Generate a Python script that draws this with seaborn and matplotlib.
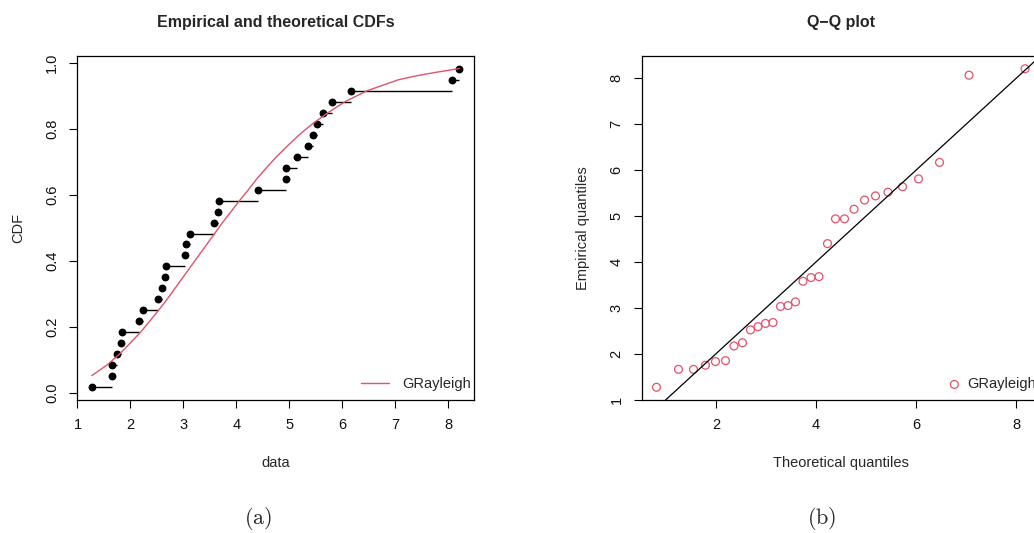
import numpy as np
import matplotlib
matplotlib.use("Agg")
import matplotlib.pyplot as plt
import seaborn as sns

# sorted sample (read from the ECDF / Q-Q empirical quantiles)
data_sorted = [1.27, 1.66, 1.66, 1.75, 1.83, 1.85, 2.17, 2.24, 2.52, 2.59,
               2.66, 2.68, 3.03, 3.05, 3.13, 3.58, 3.66, 3.68, 4.40, 4.94,
               4.94, 5.15, 5.35, 5.44, 5.52, 5.64, 5.81, 6.17, 8.07, 8.21]
# theoretical quantiles of the fitted GRayleigh at the plotting positions
theo_q = [0.81, 1.25, 1.55, 1.79, 1.99, 2.19, 2.36, 2.53, 2.69, 2.84,
          2.99, 3.14, 3.29, 3.44, 3.59, 3.74, 3.90, 4.06, 4.23, 4.39,
          4.57, 4.76, 4.97, 5.19, 5.44, 5.73, 6.05, 6.47, 7.06, 8.18]
n = len(data_sorted)
ppos = [(i + 0.5) / n for i in range(n)]

# fitted CDF curve
curve_x = [1.27] + theo_q[2:29] + [7.40, 7.75, 8.21]
curve_y = [0.052] + ppos[2:29] + [0.962, 0.972, 0.984]

cdf_xticks = [1, 2, 3, 4, 5, 6, 7, 8]
cdf_yticks = [0.0, 0.2, 0.4, 0.6, 0.8, 1.0]
cdf_ylabels = ["0.0", "0.2", "0.4", "0.6", "0.8", "1.0"]
qq_xticks = [2, 4, 6, 8]
qq_yticks = [1, 2, 3, 4, 5, 6, 7, 8]

red = "#DF536B"

sns.set_theme(style="ticks")
plt.rcParams["font.family"] = ["Liberation Sans", "DejaVu Sans"]
plt.rcParams["mathtext.fontset"] = "cm"
plt.rcParams["axes.linewidth"] = 0.9
plt.rcParams["axes.edgecolor"] = "black"

fig = plt.figure(figsize=(10.34, 5.33), dpi=100)
ax1 = fig.add_axes([0.0745, 0.2495, 0.384, 0.6454])
ax2 = fig.add_axes([0.6206, 0.2495, 0.385, 0.6454])

for ax in (ax1, ax2):
    ax.tick_params(direction="out", length=6, width=0.8, color="black",
                   labelsize=10.5, pad=7, labelcolor="#111111")

# ---- (a) empirical and theoretical CDFs
ax1.hlines(ppos[:-1], data_sorted[:-1], data_sorted[1:], color="black", lw=1)
sns.scatterplot(x=data_sorted, y=ppos, color="black", s=32, linewidth=0, ax=ax1)
sns.lineplot(x=curve_x, y=curve_y, sort=False, color=red, lw=1,
             label="GRayleigh", ax=ax1)
ax1.set_xlim(0.992, 8.488)
ax1.set_ylim(-0.022, 1.022)
ax1.set_xticks(cdf_xticks)
ax1.set_yticks(cdf_yticks)
ax1.set_yticklabels(cdf_ylabels, rotation=90, va="center")
ax1.set_title("Empirical and theoretical CDFs", fontsize=11.5,
              fontweight="bold", pad=21)
ax1.set_xlabel("data", fontsize=10.5, labelpad=17)
ax1.set_ylabel("CDF", fontsize=10.5, labelpad=14)
ax1.legend(loc="lower right", bbox_to_anchor=(1.013, 0.0), frameon=False,
           fontsize=10.5, handlelength=1.9, handletextpad=0.9,
           borderaxespad=0.2)

# ---- (b) Q-Q plot
sns.scatterplot(x=theo_q, y=data_sorted, facecolor="none", edgecolor=red,
                s=32, linewidth=0.9, label="GRayleigh", ax=ax2)
ax2.axline((1, 1), slope=1, color="black", lw=0.9)
ax2.set_xlim(0.515, 8.475)
ax2.set_ylim(0.992, 8.488)
ax2.set_xticks(qq_xticks)
ax2.set_yticks(qq_yticks)
ax2.set_yticklabels([str(t) for t in qq_yticks], rotation=90, va="center")
ax2.set_title("Q\u2212Q plot", fontsize=11.5, fontweight="bold", pad=21)
ax2.set_xlabel("Theoretical quantiles", fontsize=10.5, labelpad=17)
ax2.set_ylabel("Empirical quantiles", fontsize=10.5, labelpad=14)
ax2.legend(loc="lower right", bbox_to_anchor=(1.013, 0.0), frameon=False,
           fontsize=10.5, handlelength=1.0, handletextpad=0.4,
           borderaxespad=0.2)

fig.text(258 / 1034, 1 - 519 / 533, r"$\mathrm{(a)}$", fontsize=16,
         ha="center", va="center")
fig.text(822 / 1034, 1 - 519 / 533, r"$\mathrm{(b)}$", fontsize=16,
         ha="center", va="center")

fig.savefig("out.png", dpi=100)
